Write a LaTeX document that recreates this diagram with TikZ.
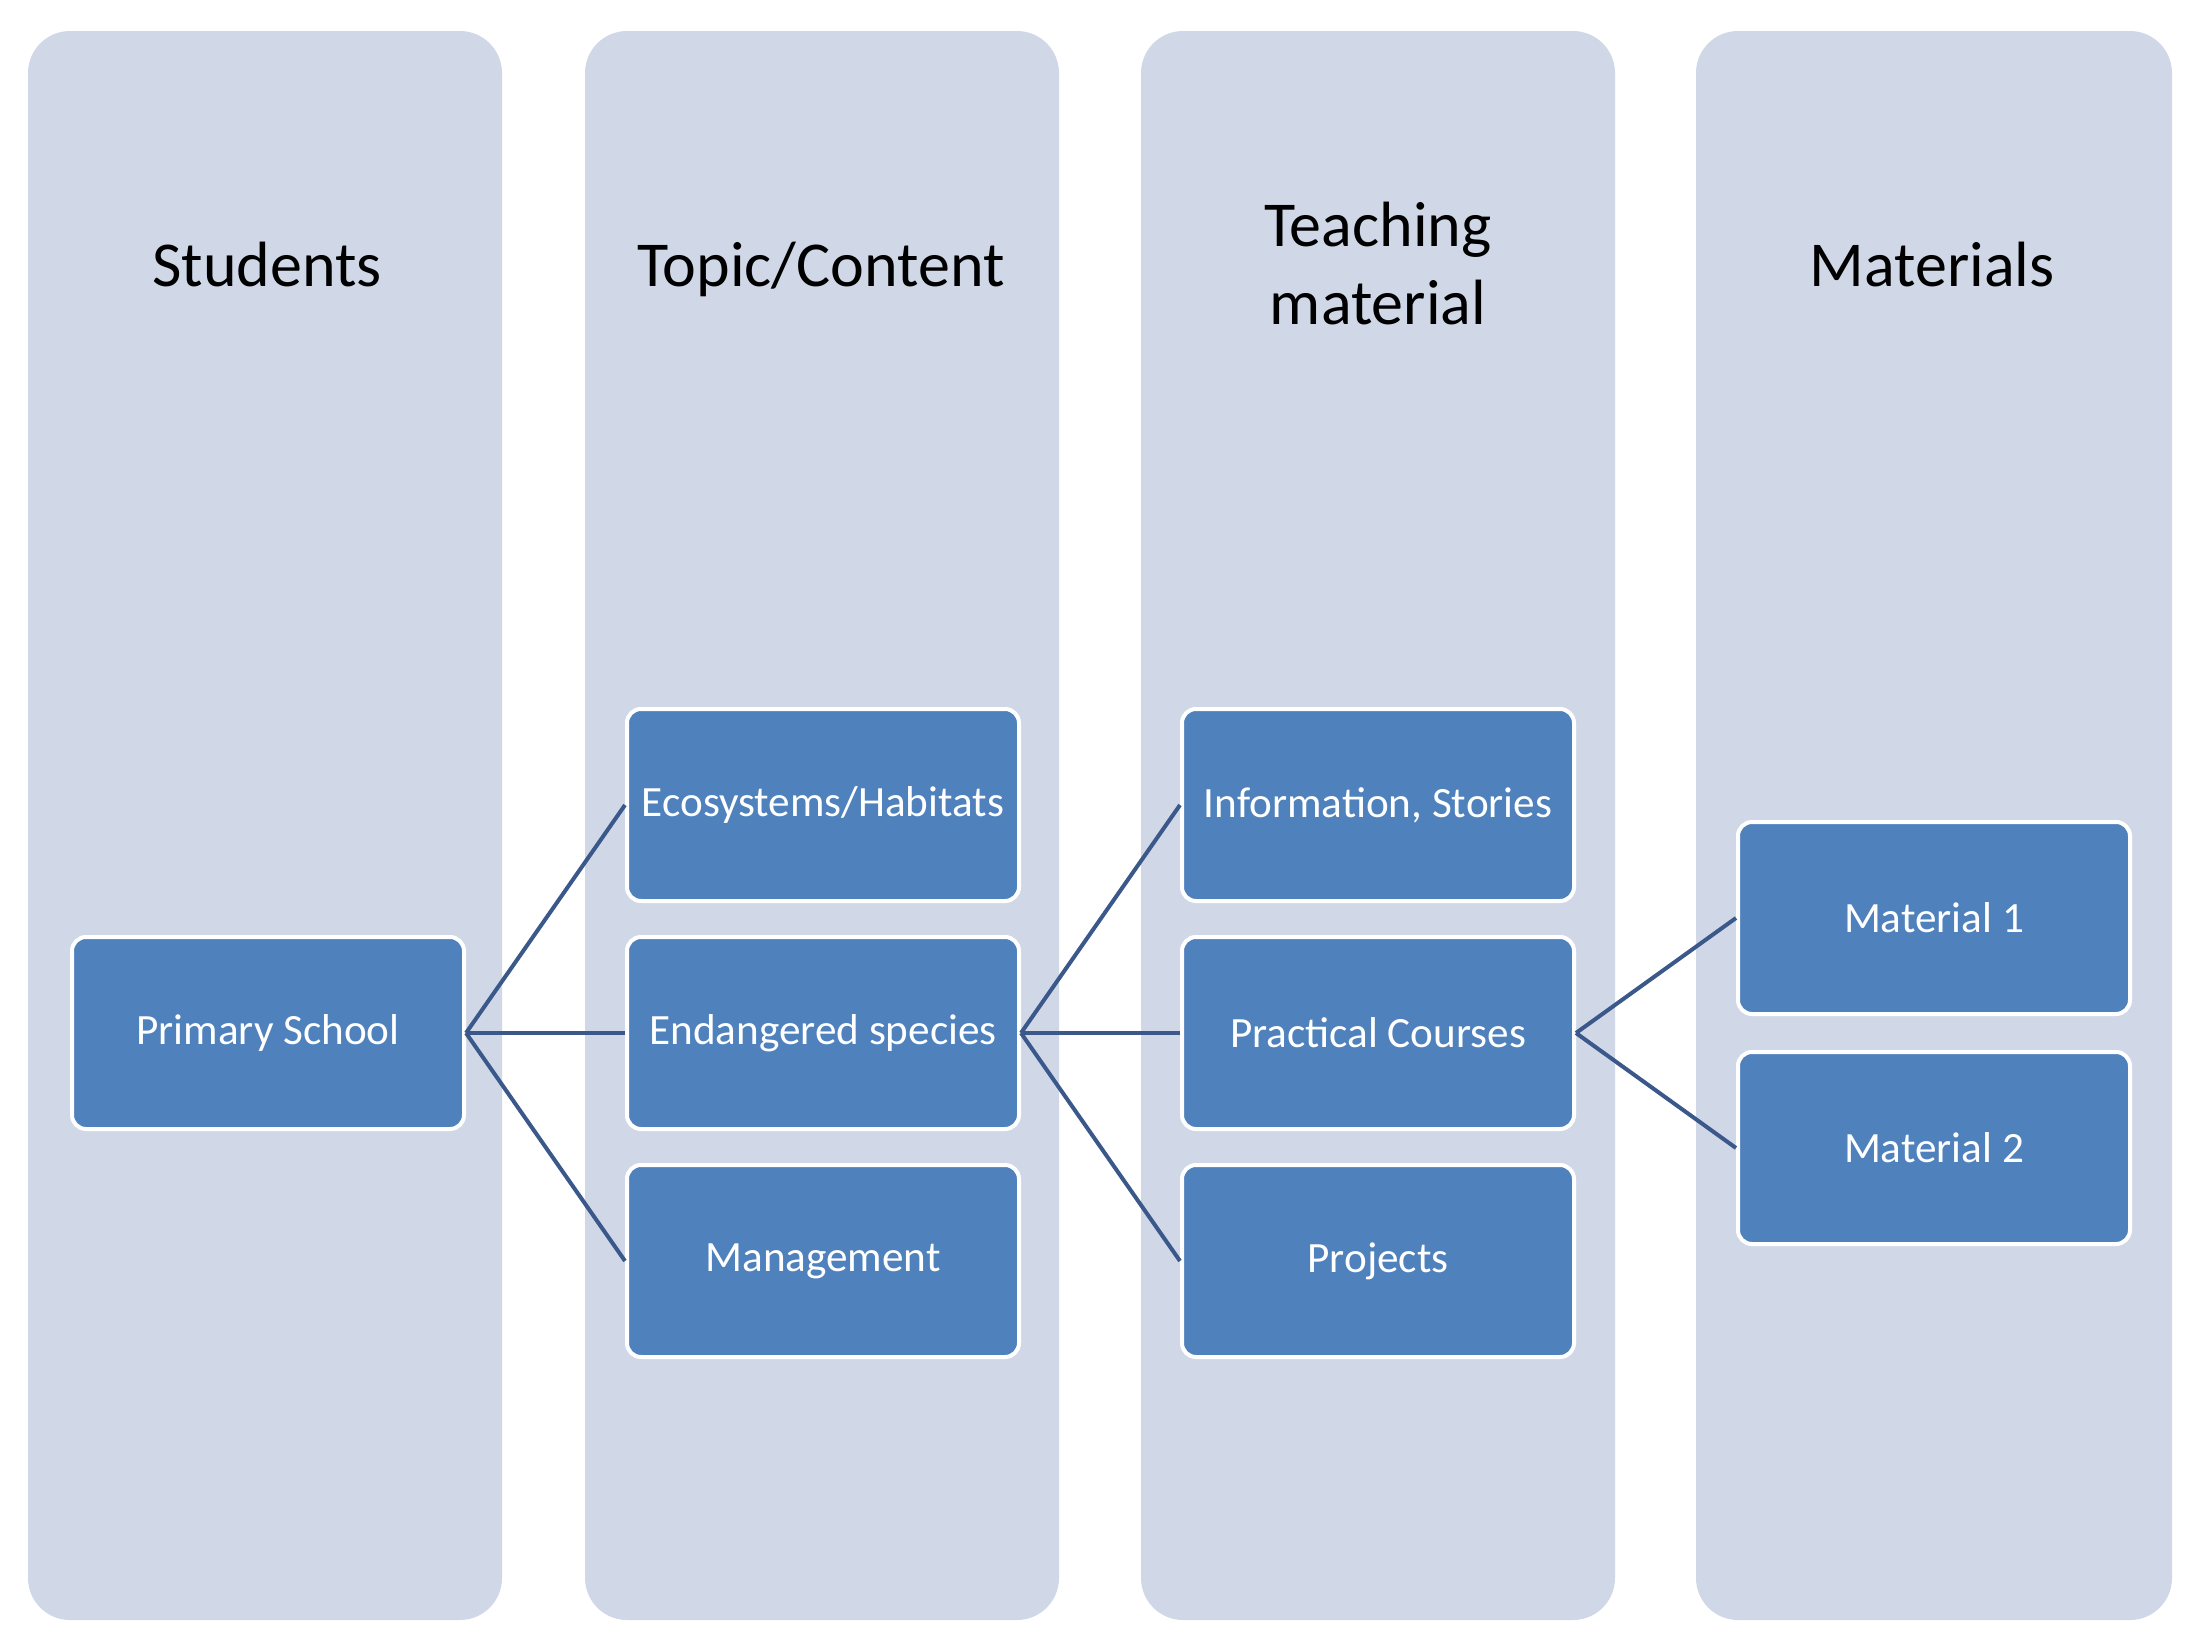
\documentclass[tikz,border=0pt]{standalone}
\usepackage{fontspec}
\setmainfont{Carlito}
\definecolor{colbg}{RGB}{208,216,232}
\definecolor{boxblue}{RGB}{79,129,189}
\definecolor{linkblue}{RGB}{58,88,138}
\begin{document}
\begin{tikzpicture}[x=0.25pt,y=-0.25pt,
  column/.style={fill=colbg,rounded corners=10.5pt},
  header/.style={font=\fontsize{16}{19.5}\selectfont,text=black,align=center},
  oneline/.style={text height=11pt,text depth=3.5pt},
  itembox/.style={draw=white,line width=1pt,fill=boxblue,rounded corners=3.5pt,
    minimum width=98pt,minimum height=48pt,inner sep=0pt,text=white,
    font=\fontsize{10.8}{13}\selectfont},
  link/.style={draw=linkblue,line width=1pt}]
\useasboundingbox (0,0) rectangle (2200,1650);
% columns
\fill[column] (28,31) rectangle (502,1620);
\fill[column] (585,31) rectangle (1059,1620);
\fill[column] (1141,31) rectangle (1615,1620);
\fill[column] (1696,31) rectangle (2172,1620);
% headers
\node[header,oneline] (hStud) at (267,271) {Students};
\node[header,oneline] (hTopic) at (821,271) {Topic/Content};
\node[header] (hTeach) at (1378,264) {Teaching\\material};
\node[header,oneline] (hMat) at (1932,271) {Materials};
% boxes
\node[itembox] (prim) at (268,1033) {Primary School};
\node[itembox] (eco) at (823,805) {Ecosystems/Habitats};
\node[itembox] (endg) at (823,1033) {Endangered species};
\node[itembox] (mgmt) at (823,1261) {Management};
\node[itembox] (info) at (1378,805) {Information, Stories};
\node[itembox] (prac) at (1378,1033) {Practical Courses};
\node[itembox] (proj) at (1378,1261) {Projects};
\node[itembox] (mat1) at (1934,918) {Material 1};
\node[itembox] (mat2) at (1934,1148) {Material 2};
% connectors
\draw[link] (prim.east) -- (eco.west);
\draw[link] (prim.east) -- (endg.west);
\draw[link] (prim.east) -- (mgmt.west);
\draw[link] (endg.east) -- (info.west);
\draw[link] (endg.east) -- (prac.west);
\draw[link] (endg.east) -- (proj.west);
\draw[link] (prac.east) -- (mat1.west);
\draw[link] (prac.east) -- (mat2.west);
\end{tikzpicture}
\end{document}
